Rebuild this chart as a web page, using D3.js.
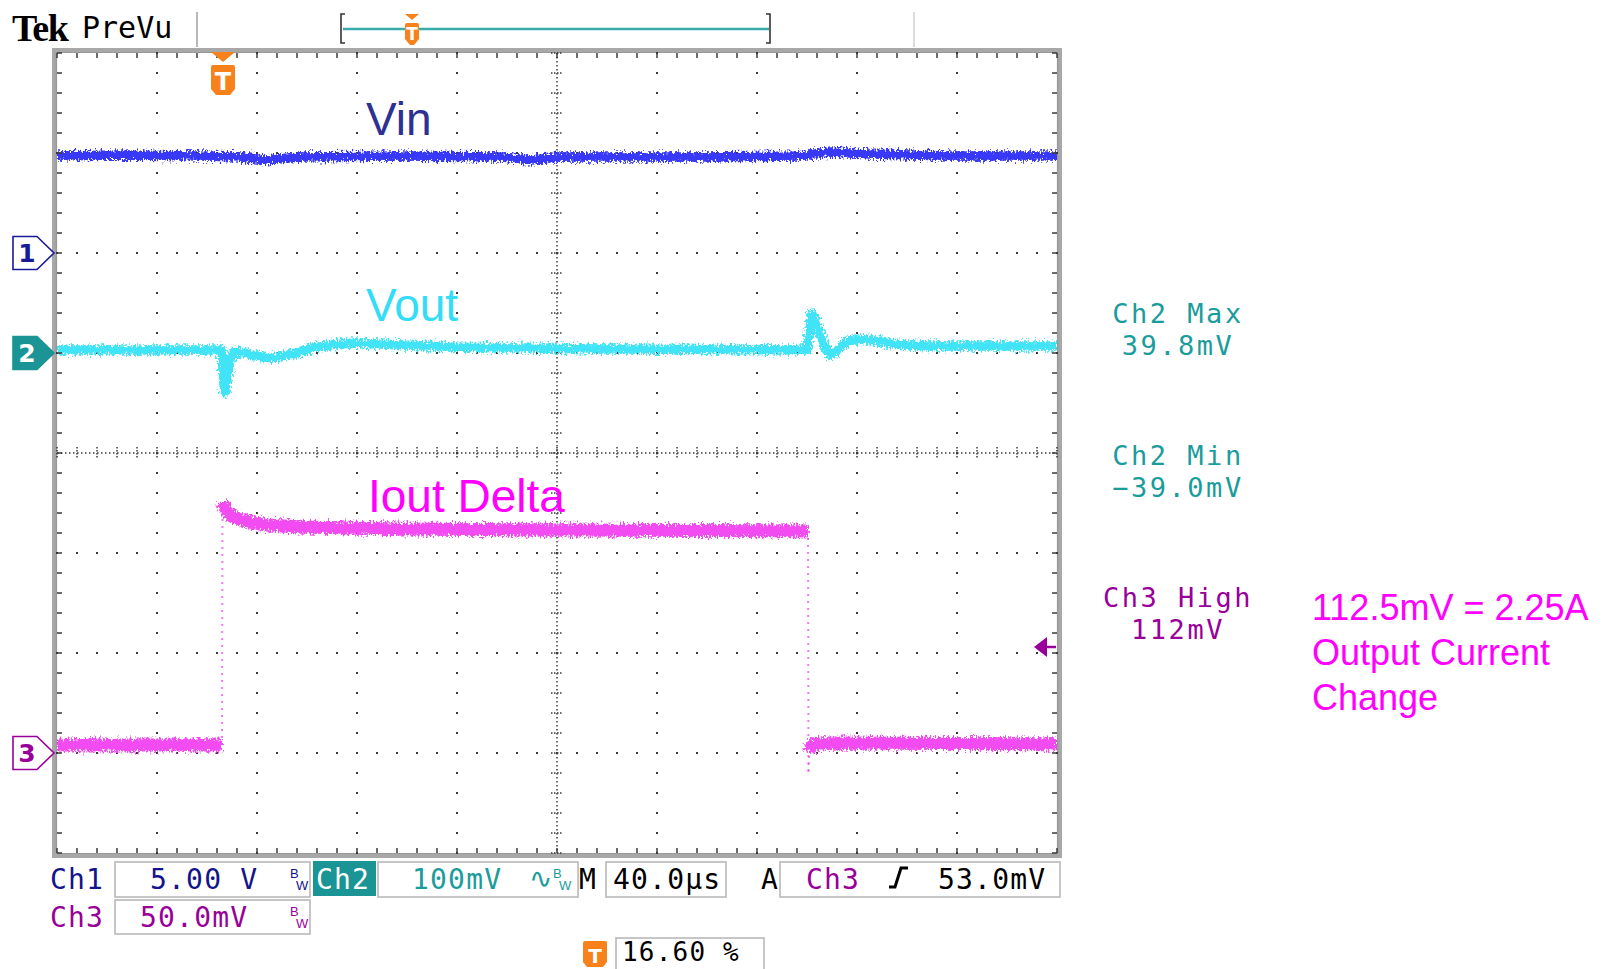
<!DOCTYPE html>
<html>
<head>
<meta charset="utf-8">
<script src="https://cdn.jsdelivr.net/npm/d3@7"></script>
<style>
  html, body { margin: 0; padding: 0; background: #ffffff; }
  svg { display: block; }
</style>
</head>
<body>
<svg id="scope" width="1602" height="969"></svg>
<script>
// ---- acquisition settings ----
const usPerDiv = 40;            // M 40.0 µs
const triggerPercent = 16.6;    // trigger position in record
const ch1VoltsPerDiv = 5;       // Ch1 5.00 V
const ch2MilliVoltsPerDiv = 100;// Ch2 100 mV
const ch3MilliVoltsPerDiv = 50; // Ch3 50.0 mV
const ch1OffsetDiv = 2;         // ground markers, divisions above centre
const ch2OffsetDiv = 1;
const ch3OffsetDiv = -3;
const ch3TriggerLevel = 53.0;   // mV

// ---- Ch1: Vin (V), time in µs from trigger ----
const vinTime  = [-66.4, -41.2, -9.2, 6.8, 17.2, 30.8, 70.8, 110.8, 123.2, 134.8, 190.8, 230.8, 242.8, 258.8, 290.8, 333.6];
const vinVolts = [4.85, 4.9, 4.85, 4.8, 4.65, 4.8, 4.85, 4.8, 4.65, 4.8, 4.8, 4.85, 5.05, 4.95, 4.85, 4.85];

// ---- Ch2: Vout (mV) ----
const voutTime = [-66.4, -0.8, -0.4, 0.4, 0.8, 1.6, 2.8, 4.4, 8.8, 13.6, 18.8, 26.8, 36, 44, 52, 62.8, 90.8, 150.8,
                  233.6, 234.4, 235.6, 238, 240.4, 242.8, 245.2, 249.6, 253.6, 261.6, 268, 281.6, 333.6];
const voutMilliVolts = [3, 3, -3, -32, -39.0, -27, -7, 1, 0, -3, -5, -2, 5, 8, 10, 9, 6, 4,
                  3, 18, 39.8, 25, 8, -2, 1, 12, 14, 12, 9, 7, 7];

// ---- Ch3: Iout delta (mV across sense resistor) ----
const ioutTime = [-66.4, -0.6, -0.4, -0.2, 1.2, 4, 10.8, 17.6, 30.8, 70.8, 130.8, 233.6, 234, 234.2, 234.4, 235.6, 242.8, 333.6];
const ioutMilliVolts = [4, 4, 4, 125.5, 121.5, 118, 115.5, 114, 113, 112, 111.5, 111, 111, -9.5, 0.5, 4, 5, 4.5];

// ---- text ----
const traceLabels = ["Vin", "Vout", "Iout Delta"];
const readoutLines = [["Ch2 Max", "39.8mV"], ["Ch2 Min", "\u221239.0mV"], ["Ch3 High", "112mV"]];
const noteLines = ["112.5mV = 2.25A", "Output Current", "Change"];
const ch1Scale = "5.00 V", ch2Scale = "100mV", ch3Scale = "50.0mV";
const timebase = "40.0\u00b5s", triggerLevelText = "53.0mV", triggerPosText = "16.60 %";

// ---- colours ----
const C = {
  ch1: "#3838f8", ch1Text: "#14148c",
  ch2: "#40e4f6", ch2Text: "#1b9c9c", ch2Fill: "#1a9494",
  ch3: "#f24cf2", ch3Text: "#990099",
  labelVin: "#2e3192", labelVout: "#33dcf8", labelIout: "#ff00ff",
  orange: "#f7821b", grid: "#3a3a3a", frame: "#a8a8a8"
};

const svg = d3.select("#scope");
const mono = "'DejaVu Sans Mono', monospace";
const sans = "'Liberation Sans', Arial, sans-serif";

// ---- graticule geometry: 10 x 8 divisions ----
const gx = d3.scaleLinear().domain([0, 10]).range([57, 1057]);
const gy = d3.scaleLinear().domain([-4, 4]).range([853, 53]);

const tStart = -triggerPercent / 100 * 10 * usPerDiv;
const x = d3.scaleLinear().domain([tStart, tStart + 10 * usPerDiv]).range([gx(0), gx(10)]);
const chScale = (perDiv, off) => d3.scaleLinear()
  .domain([(-4 - off) * perDiv, (4 - off) * perDiv]).range([gy(-4), gy(4)]);
const y1 = chScale(ch1VoltsPerDiv, ch1OffsetDiv);
const y2 = chScale(ch2MilliVoltsPerDiv, ch2OffsetDiv);
const y3 = chScale(ch3MilliVoltsPerDiv, ch3OffsetDiv);

const defs = svg.append("defs");
defs.append("clipPath").attr("id", "plotClip")
  .append("rect").attr("x", gx(0)).attr("y", gy(4)).attr("width", gx(10) - gx(0)).attr("height", gy(-4) - gy(4));
// ragged edges of the sampled traces
const grain = defs.append("filter").attr("id", "grain").attr("filterUnits", "userSpaceOnUse")
  .attr("x", 0).attr("y", 0).attr("width", 1602).attr("height", 969);
grain.append("feTurbulence").attr("type", "fractalNoise").attr("baseFrequency", "0.6 0.35")
  .attr("numOctaves", 2).attr("seed", 7).attr("result", "noise");
grain.append("feDisplacementMap").attr("in", "SourceGraphic").attr("in2", "noise")
  .attr("scale", 11).attr("xChannelSelector", "R").attr("yChannelSelector", "G");

// ---- grid dots ----
const grid = svg.append("g");
const minorSteps = d3.range(0, 10.001, 0.2);
const minorStepsY = d3.range(-4, 4.001, 0.2);
const dots = [];
for (let i = 1; i < 10; i++) if (i !== 5) minorStepsY.forEach(v => dots.push([gx(i), gy(v)]));
for (let j = -3; j < 4; j++) if (j !== 0) minorSteps.forEach(u => dots.push([gx(u), gy(j)]));
grid.selectAll("rect.dot").data(dots).join("rect").attr("class", "dot")
  .attr("x", d => d[0] - 1).attr("y", d => d[1] - 1).attr("width", 2).attr("height", 2)
  .attr("fill", C.grid);

// centre cross: dense dotted lines with minor ticks
grid.append("line").attr("x1", gx(0)).attr("x2", gx(10)).attr("y1", gy(0)).attr("y2", gy(0))
  .attr("stroke", C.grid).attr("stroke-width", 1.5).attr("stroke-dasharray", "1.5,2.5");
grid.append("line").attr("x1", gx(5)).attr("x2", gx(5)).attr("y1", gy(4)).attr("y2", gy(-4))
  .attr("stroke", C.grid).attr("stroke-width", 1.5).attr("stroke-dasharray", "1.5,2.5");
grid.selectAll("line.cxt").data(minorSteps).join("line").attr("class", "cxt")
  .attr("x1", d => gx(d)).attr("x2", d => gx(d)).attr("y1", gy(0) - 6).attr("y2", gy(0) + 6)
  .attr("stroke", C.grid).attr("stroke-width", 1.5).attr("stroke-dasharray", "1.5,1.5");
grid.selectAll("line.cyt").data(minorStepsY).join("line").attr("class", "cyt")
  .attr("y1", d => gy(d)).attr("y2", d => gy(d)).attr("x1", gx(5) - 6).attr("x2", gx(5) + 6)
  .attr("stroke", C.grid).attr("stroke-width", 1.5).attr("stroke-dasharray", "1.5,1.5");

// ---- traces ----
const traceLayer = svg.append("g").attr("clip-path", "url(#plotClip)");
const line = d3.line();

function drawTrace(times, values, yScale, color, width, edgeSlope) {
  const pts = times.map((t, i) => [x(t), yScale(values[i])]);
  const bands = [], edges = [];
  let run = [pts[0]];
  for (let i = 1; i < pts.length; i++) {
    const [x0, y0] = pts[i - 1], [x1, y1] = pts[i];
    const steep = Math.abs(y1 - y0) > edgeSlope * Math.max(Math.abs(x1 - x0), 0.01);
    if (steep) {
      if (run.length > 1) bands.push(run);
      edges.push([pts[i - 1], pts[i]]);
      run = [pts[i]];
    } else run.push(pts[i]);
  }
  if (run.length > 1) bands.push(run);
  const g = traceLayer.append("g");
  g.selectAll("path.edge").data(edges).join("path").attr("class", "edge")
    .attr("d", line).attr("fill", "none").attr("stroke", color)
    .attr("stroke-width", 2).attr("stroke-dasharray", "2,5").attr("opacity", 0.75);
  const bandG = g.append("g").attr("filter", "url(#grain)");
  bandG.selectAll("path").data(bands).join("path")
    .attr("d", line).attr("fill", "none").attr("stroke", color)
    .attr("stroke-width", width).attr("stroke-linejoin", "round");
}

drawTrace(vinTime, vinVolts, y1, C.ch1, 9.5, Infinity);
drawTrace(voutTime, voutMilliVolts, y2, C.ch2, 9.5, Infinity);
drawTrace(ioutTime, ioutMilliVolts, y3, C.ch3, 13, 6);

// ---- frame ----
svg.append("rect").attr("x", 54).attr("y", 50).attr("width", 1006).attr("height", 806)
  .attr("fill", "none").attr("stroke", C.frame).attr("stroke-width", 4);
svg.append("rect").attr("x", 56.5).attr("y", 52.5).attr("width", 1001).attr("height", 801)
  .attr("fill", "none").attr("stroke", "#333").attr("stroke-width", 1.2).attr("stroke-dasharray", "1,1");
// edge ticks every minor division
const edgeTicks = svg.append("g").attr("stroke", C.grid).attr("stroke-width", 1.5);
minorSteps.forEach(u => {
  edgeTicks.append("line").attr("x1", gx(u)).attr("x2", gx(u)).attr("y1", gy(4)).attr("y2", gy(4) + 5);
  edgeTicks.append("line").attr("x1", gx(u)).attr("x2", gx(u)).attr("y1", gy(-4)).attr("y2", gy(-4) - 5);
});
minorStepsY.forEach(v => {
  edgeTicks.append("line").attr("y1", gy(v)).attr("y2", gy(v)).attr("x1", gx(0)).attr("x2", gx(0) + 5);
  edgeTicks.append("line").attr("y1", gy(v)).attr("y2", gy(v)).attr("x1", gx(10)).attr("x2", gx(10) - 5);
});

// ---- trace labels ----
const labelAt = [[366, 135, C.labelVin], [366, 321, C.labelVout], [368, 512, C.labelIout]];
traceLabels.forEach((t, i) => svg.append("text").attr("x", labelAt[i][0]).attr("y", labelAt[i][1])
  .attr("font-family", sans).attr("font-size", 46).attr("fill", labelAt[i][2]).text(t));

// ---- channel ground markers ----
function groundMarker(yPix, label, stroke, fill, textColor) {
  const g = svg.append("g");
  const top = yPix - 16.5, bot = yPix + 16.5;
  g.append("path").attr("d", `M13,${top} H37 L54,${yPix} L37,${bot} H13 Z`)
    .attr("fill", fill).attr("stroke", stroke).attr("stroke-width", 1.6);
  g.append("text").attr("x", 27).attr("y", yPix + 9).attr("text-anchor", "middle")
    .attr("font-family", "'DejaVu Sans', sans-serif").attr("font-weight", "bold").attr("font-size", 25)
    .attr("fill", textColor).text(label);
}
groundMarker(y1(0), "1", "#1a1a99", "#ffffff", "#1a1a99");
groundMarker(y2(0), "2", C.ch2Fill, C.ch2Fill, "#ffffff");
groundMarker(y3(0), "3", C.ch3Text, "#ffffff", C.ch3Text);

// trigger level arrow (Ch3)
const ty = y3(ch3TriggerLevel);
svg.append("path").attr("d", `M1034,${ty} L1047,${ty - 10} L1047,${ty + 10} Z`).attr("fill", C.ch3Text);
svg.append("line").attr("x1", 1046).attr("x2", 1056).attr("y1", ty).attr("y2", ty)
  .attr("stroke", C.ch3Text).attr("stroke-width", 2.5);

// ---- trigger position markers ----
function trigBadge(cx, yTop, w, hTri, hBody, fs) {
  const g = svg.append("g");
  g.append("path").attr("d", `M${cx - w / 2},${yTop} H${cx + w / 2} L${cx},${yTop + hTri} Z`).attr("fill", C.orange);
  const b = yTop + hTri + 3;
  g.append("path").attr("d", `M${cx - w / 2 + 2},${b} H${cx + w / 2 - 2} Q${cx + w / 2},${b} ${cx + w / 2},${b + 2} V${b + hBody - 6} L${cx + w / 2 - 5},${b + hBody} H${cx - w / 2 + 5} L${cx - w / 2},${b + hBody - 6} V${b + 2} Q${cx - w / 2},${b} ${cx - w / 2 + 2},${b} Z`)
    .attr("fill", C.orange);
  g.append("text").attr("x", cx).attr("y", b + hBody - 5).attr("text-anchor", "middle")
    .attr("font-family", "'DejaVu Sans', sans-serif").attr("font-weight", "bold")
    .attr("font-size", fs).attr("fill", "#ffffff").text("T");
}
trigBadge(x(0), 52, 24, 10, 30, 24);

// ---- top bar ----
svg.append("text").attr("x", 12).attr("y", 41).attr("font-family", "'Liberation Serif', 'DejaVu Serif', serif")
  .attr("font-weight", "bold").attr("font-size", 38).attr("letter-spacing", -1.5).attr("fill", "#000").text("Tek");
svg.append("text").attr("x", 82).attr("y", 38).attr("font-family", mono).attr("font-size", 30)
  .attr("fill", "#000").text("PreVu");
svg.append("path").attr("d", "M197,12 V47").attr("stroke", "#a0a0a0").attr("stroke-width", 1.5);
svg.append("path").attr("d", "M914,12 V47").attr("stroke", "#d0d0d0").attr("stroke-width", 1.5);
svg.append("line").attr("x1", 343).attr("x2", 769).attr("y1", 29).attr("y2", 29)
  .attr("stroke", "#3aabab").attr("stroke-width", 2.5);
svg.append("path").attr("d", "M345,14 H341 V43 H345").attr("fill", "none").attr("stroke", "#333").attr("stroke-width", 1.6);
svg.append("path").attr("d", "M766,14 H770 V43 H766").attr("fill", "none").attr("stroke", "#333").attr("stroke-width", 1.6);
trigBadge(412, 14, 14, 6, 22, 17);

// ---- measurement readouts ----
const readColors = [C.ch2Text, C.ch2Text, C.ch3Text];
const readBase = [323, 465, 607];
readoutLines.forEach((pair, i) => pair.forEach((s, k) =>
  svg.append("text").attr("x", 1178).attr("y", readBase[i] + k * 32).attr("text-anchor", "middle")
    .attr("font-family", mono).attr("font-size", 27).attr("letter-spacing", 2.5)
    .attr("fill", readColors[i]).text(s)));

// ---- note ----
noteLines.forEach((s, i) => svg.append("text").attr("x", 1312).attr("y", 620 + i * 45)
  .attr("font-family", sans).attr("font-size", 36).attr("fill", "#ff00ff").text(s));

// ---- status bar ----
const status = svg.append("g").attr("font-family", mono).attr("font-size", 28).attr("letter-spacing", 1.2);
function box(x0, y0, w, h) {
  status.append("rect").attr("x", x0).attr("y", y0).attr("width", w).attr("height", h)
    .attr("fill", "#fff").attr("stroke", "#b4b4b4").attr("stroke-width", 1.5);
}
function txt(x0, y0, s, color, extra) {
  const t = status.append("text").attr("x", x0).attr("y", y0).attr("fill", color).text(s);
  if (extra) extra(t);
  return t;
}
function bw(x0, y0, color) {
  status.append("text").attr("x", x0).attr("y", y0 - 11).attr("font-size", 13).attr("font-family", sans).attr("fill", color).text("B");
  status.append("text").attr("x", x0 + 6).attr("y", y0 + 1).attr("font-size", 13).attr("font-family", sans).attr("fill", color).text("W");
}
// row 1
txt(50, 889, "Ch1", C.ch1Text);
box(115, 862, 195, 35);
txt(150, 889, ch1Scale, C.ch1Text);
bw(290, 889, C.ch1Text);
status.append("rect").attr("x", 313).attr("y", 861).attr("width", 63).attr("height", 35).attr("fill", C.ch2Fill);
txt(316, 889, "Ch2", "#ffffff");
box(378, 862, 200, 35);
txt(412, 889, ch2Scale, C.ch2Text);
txt(529, 888, "\u223f", C.ch2Text, t => t.attr("font-size", 28).attr("font-family", "'DejaVu Sans', sans-serif"));
bw(553, 889, C.ch2Text);
txt(579, 889, "M", "#000");
box(606, 862, 120, 35);
txt(613, 889, timebase, "#000");
txt(761, 889, "A", "#000");
box(780, 862, 280, 35);
txt(806, 889, "Ch3", C.ch3Text);
status.append("path").attr("d", "M889,887 H895 L901,868 H908").attr("fill", "none").attr("stroke", "#000").attr("stroke-width", 3);
txt(938, 889, triggerLevelText, "#000");
// row 2
txt(50, 927, "Ch3", C.ch3Text);
box(115, 900, 195, 34);
txt(140, 927, ch3Scale, C.ch3Text);
bw(290, 927, C.ch3Text);
// row 3
status.append("path").attr("d", "M583,943 Q583,941 585,941 H605 Q607,941 607,943 V962 L603,967 H587 L583,962 Z").attr("fill", C.orange);
status.append("text").attr("x", 595).attr("y", 963).attr("text-anchor", "middle").attr("font-family", "'DejaVu Sans', sans-serif")
  .attr("font-weight", "bold").attr("font-size", 20).attr("letter-spacing", 0).attr("fill", "#fff").text("T");
box(616, 938, 148, 32);
txt(622, 961, triggerPosText, "#000", t => t.attr("font-size", 26));
</script>
</body>
</html>
